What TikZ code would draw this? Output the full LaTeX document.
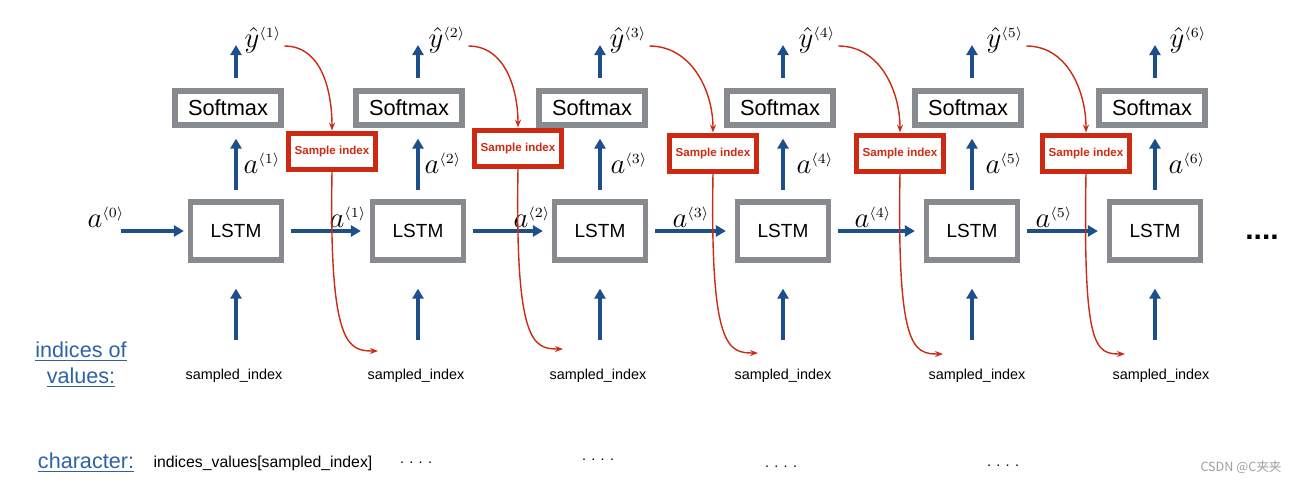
\documentclass[tikz,border=0pt]{standalone}
\usepackage{fontspec}
\setmainfont{Liberation Sans}
\newfontfamily\cjkfont{Noto Sans CJK SC}
\usetikzlibrary{calc, positioning, arrows.meta}
\definecolor{boxgray}{HTML}{878A8E}
\definecolor{arrowblue}{HTML}{1D4F8A}
\definecolor{linkblue}{HTML}{2E62A6}
\definecolor{samplered}{HTML}{CC2A12}

\begin{document}
\begin{tikzpicture}[x=0.5pt, y=-0.5pt,
		lstmbox/.style={draw=boxgray, line width=2.6pt, minimum width=45.5pt, minimum height=29pt, inner sep=0pt, font=\fontsize{9.5}{11}\selectfont},
		softbox/.style={draw=boxgray, line width=2.6pt, minimum width=53pt, minimum height=17pt, inner sep=0pt, font=\fontsize{10.9}{12}\selectfont},
		samplebox/.style={draw=samplered, line width=2.5pt, minimum width=43.5pt, minimum height=18pt, inner sep=0pt, text=samplered, font=\bfseries\fontsize{5.8}{7}\selectfont},
		bluearrow/.style={draw=arrowblue, line width=1.6pt, -{Triangle[length=5pt,width=5.5pt]}},
		redlink/.style={draw=samplered, line width=0.7pt, -{Stealth[length=4pt,width=3pt]}},
		linklabel/.style={text=linkblue, font=\fontsize{10.8}{13}\selectfont, align=center}]
			\newcommand{\myfontmath}[1]{
				\fontsize{14}{16}\selectfont{#1}
			}\newcommand{\myfontcode}[1]{
				\fontsize{7.2}{9}\selectfont{#1}
			}\newcommand{\myfontchar}[1]{
				\fontsize{7.9}{9}\selectfont{#1}
			}%Frame of the picture
			\useasboundingbox (0,0) rectangle (1297,483);
			%LSTM cells, their inputs and outputs
			\foreach \i/\x in {1/236, 2/418, 3/600, 4/783, 5/972, 6/1155} {
				\node [lstmbox] (lstm\i) at (\x,231) {LSTM};
				\coordinate (out\i) at (\x,45);
				\coordinate (in\i) at (\x,340);
			}
			%Softmax layers
			\foreach \i/\x in {1/228, 2/409, 3/592, 4/780, 5/968, 6/1152} {
				\node [softbox] (soft\i) at (\x,108) {Softmax};
			}
			%Sample index boxes
			\foreach \i/\x/\ypos in {1/332/151, 2/518/148, 3/713/153, 4/900/153, 5/1086/153} {
				\node [samplebox] (sample\i) at (\x,\ypos) {Sample index};
			}
			%Predictions y hat
			\foreach \i/\x in {1/263, 2/447, 3/628, 4/817, 5/1005, 6/1188} {
				\node [] (yhat\i) at (\x,40) {\myfontmath{$\hat{y}^{\scriptscriptstyle\langle \i\rangle}$}};
			}
			%Activations going up to the Softmax
			\foreach \i/\x in {1/262, 2/443, 3/629, 4/815, 5/1004, 6/1187} {
				\node [] (aup\i) at (\x,163) {\myfontmath{$a^{\scriptscriptstyle\langle \i\rangle}$}};
			}
			%Activations passed to the next cell
			\foreach \i/\x in {0/106, 1/348, 2/532, 3/691, 4/873, 5/1054} {
				\node [] (anext\i) at (\x,217) {\myfontmath{$a^{\scriptscriptstyle\langle \i\rangle}$}};
			}
			%Vertical arrows
			\foreach \i in {1,...,6} {
				\draw [bluearrow, shorten <=4.5pt, shorten >=5.5pt] (lstm\i.north) -- (lstm\i.north |- soft\i.south);
				\draw [bluearrow, shorten <=5pt] (lstm\i.north |- soft\i.north) -- (out\i);
				\draw [bluearrow, shorten >=13pt] (in\i) -- (lstm\i.south);
			}
			%Horizontal arrows
			\coordinate (a0start) at (121,231);
			\draw [bluearrow, shorten >=2pt] (a0start) -- (lstm1.west);
			\foreach \i/\j in {1/2, 2/3, 3/4, 4/5, 5/6} {
				\draw [bluearrow, shorten <=3.5pt, shorten >=4.5pt] (lstm\i.east) -- (lstm\j.west);
			}
			%Sampling loops
			\foreach \i/\x/\ypos in {1/378/351, 2/563/349, 3/758/353, 4/943/354, 5/1125/354} {
				\coordinate (pick\i) at (\x,\ypos);
				\draw [redlink] ($(yhat\i.east)+(-4,6)$) to[out=0,in=90] (sample\i.north);
				\draw [redlink] (sample\i.south) .. controls +(-3,175) and +(-30,0) .. (pick\i);
			}
			%Sampled indices
			\foreach \i/\x in {1/234, 2/416, 3/598, 4/783, 5/977, 6/1161} {
				\node [] (index\i) at (\x,376) {\myfontcode{sampled\_index}};
			}
			%Left captions
			\node [linklabel] (indiceslabel) at (81,365) {\underline{indices of}\\\underline{values:}};
			\node [linklabel] (charlabel) at (86,463) {\underline{character:}};
			%Characters
			\node [] (charvalue) at (263,463) {\myfontchar{indices\_values[sampled\_index]}};
			\foreach \i/\x/\ypos in {2/416/463, 3/598/460, 4/781/467, 5/1003/466} {
				\node [] (chardots\i) at (\x,\ypos) {\myfontcode{. . . .}};
			}
			%More cells
			\node [] (moredots) at (1262,237) {\fontsize{15}{16}\selectfont\bfseries ....};
			%Watermark
			\node [text=black!38] (watermark) at (1241,467) {\cjkfont\fontsize{6.3}{7}\selectfont CSDN @C夹夹};
\end{tikzpicture}
\end{document}
